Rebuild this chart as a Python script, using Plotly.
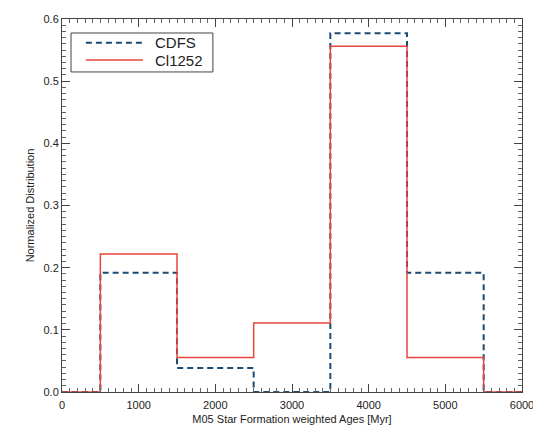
import plotly.graph_objects as go

# histogram bin edges (Myr) and normalized fractions per bin
bin_edges = [0, 500, 1500, 2500, 3500, 4500, 5500, 6000]
cdfs_frac = [0.0, 0.192, 0.0385, 0.0, 0.577, 0.192, 0.0]
cl1252_frac = [0.0, 0.222, 0.0556, 0.111, 0.556, 0.0556, 0.0]

series_names = ['CDFS', 'Cl1252']
series_colors = ['#1b4a74', '#e8453c']
series_dash = ['6px,4px', 'solid']
series_width = [2, 1.5]


def step_y(vals):
    return vals + [vals[-1]]


fig = go.Figure()
for name, vals, col, dash, w in zip(series_names, [cdfs_frac, cl1252_frac],
                                    series_colors, series_dash, series_width):
    fig.add_trace(go.Scatter(x=bin_edges, y=step_y(vals), mode='lines', name=name,
                             line=dict(shape='hv', color=col, width=w, dash=dash),
                             cliponaxis=False, showlegend=False))

axis_common = dict(showline=True, mirror='allticks', linecolor='#444', linewidth=1,
                   ticks='inside', ticklen=8, tickcolor='#444', showgrid=False, zeroline=False,
                   automargin=False,
                   tickfont=dict(family='Liberation Sans', size=11, color='#222'))

fig.update_xaxes(range=[0, 6000], dtick=1000,
                 minor=dict(dtick=100, ticks='inside', ticklen=4, tickcolor='#666'),
                 title=dict(text='M05 Star Formation weighted Ages [Myr]', standoff=5,
                            font=dict(family='Liberation Sans', size=11, color='#222')),
                 ticklabelstandoff=3,
                 **axis_common)
fig.update_yaxes(range=[0, 0.6], dtick=0.1, tickformat='.1f',
                 minor=dict(dtick=0.01, ticks='inside', ticklen=4, tickcolor='#666'),
                 title=dict(text='Normalized Distribution', standoff=6,
                            font=dict(family='Liberation Sans', size=11, color='#222')),
                 **axis_common)

# legend drawn by hand (IDL-style box with long line samples)
fig.add_shape(type='rect', xref='paper', yref='paper', x0=0.0196, x1=0.328, y0=0.858, y1=0.9625,
              line=dict(color='#444', width=1), fillcolor='white', layer='above')
legend_y = [0.936, 0.890]
for name, col, dash, w, ly in zip(series_names, series_colors, series_dash, series_width, legend_y):
    fig.add_shape(type='line', xref='paper', yref='paper', x0=0.052, x1=0.176, y0=ly, y1=ly,
                  line=dict(color=col, width=w, dash=dash), layer='above')
    fig.add_annotation(x=0.198, y=ly, xref='paper', yref='paper', text=name, showarrow=False,
                       xanchor='left', yanchor='middle',
                       font=dict(family='Liberation Sans', size=15, color='#222'))

# page body has an 8px margin, so the figure is sized/offset to compensate
fig.update_layout(
    width=533, height=425,
    margin=dict(l=54, r=19, t=11, b=41),
    paper_bgcolor='white', plot_bgcolor='white',
    showlegend=False,
)

fig.write_html("out.html")
